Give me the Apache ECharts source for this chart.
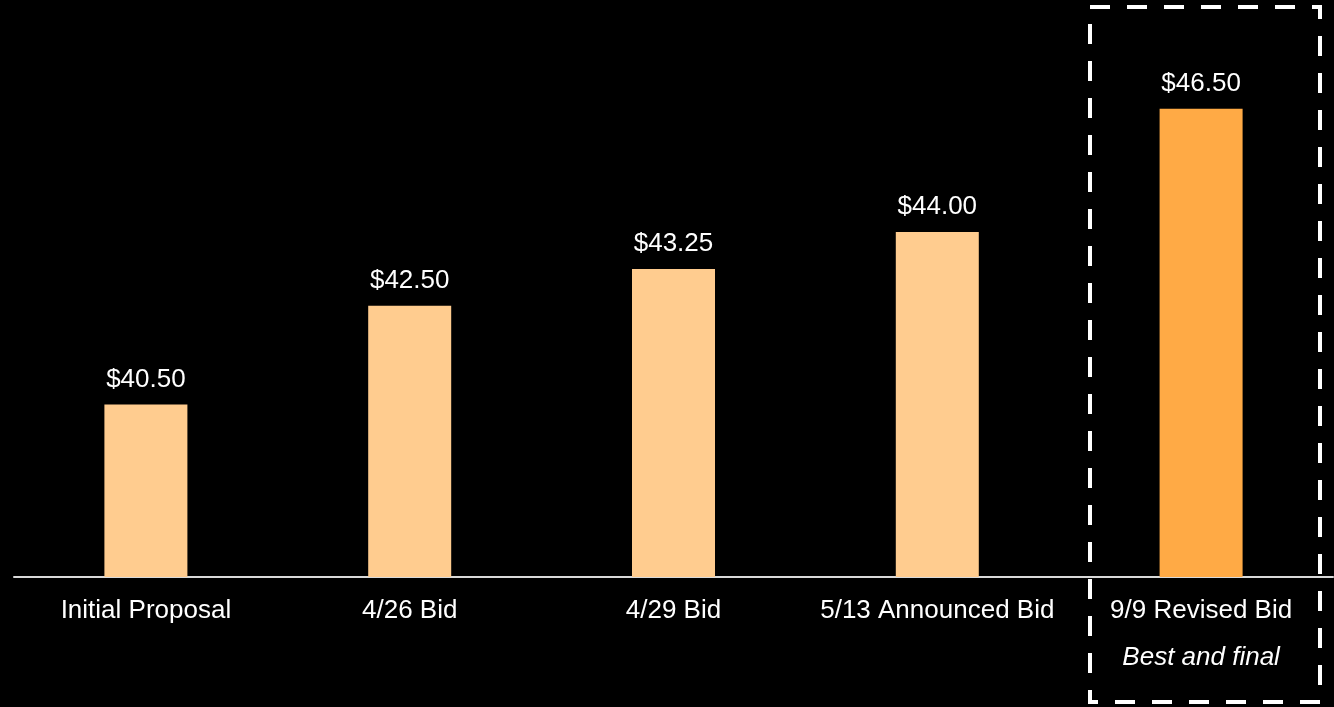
<!DOCTYPE html>
<html>
<head>
<meta charset="utf-8">
<script src="https://cdn.jsdelivr.net/npm/echarts@6/dist/echarts.min.js"></script>
<style>
html,body{margin:0;padding:0;background:#000;}
#chart{width:1334px;height:707px;}
</style>
</head>
<body>
<div id="chart"></div>
<script>
const categories = ['Initial Proposal', '4/26 Bid', '4/29 Bid', '5/13 Announced Bid', '9/9 Revised Bid'];
const values = [40.50, 42.50, 43.25, 44.00, 46.50];
const subLabels = ['', '', '', '', 'Best and final'];

const chart = echarts.init(document.getElementById('chart'));
const lastIdx = values.length - 1;
const FONT = 'Liberation Sans, Arial, sans-serif';
chart.setOption({
  backgroundColor: '#000000',
  animation: false,
  grid: { left: 14, right: 1, top: 84, bottom: 130 },
  xAxis: {
    type: 'category',
    data: categories,
    axisLine: { show: true, lineStyle: { color: '#D9D9D9', width: 2 } },
    axisTick: { show: false },
    axisLabel: {
      margin: 19,
      interval: 0,
      color: '#FFFFFF',
      fontFamily: FONT,
      fontSize: 26,
      formatter: function (v, i) {
        return subLabels[i] ? '{a|' + v + '}\n{b|' + subLabels[i] + '}' : '{a|' + v + '}';
      },
      rich: {
        a: { fontSize: 26, lineHeight: 30, color: '#FFFFFF', fontFamily: FONT },
        b: { fontSize: 26, lineHeight: 64, color: '#FFFFFF', fontStyle: 'italic', fontFamily: FONT }
      }
    }
  },
  yAxis: { type: 'value', min: 37, max: 47, show: false, splitLine: { show: false } },
  series: [{
    type: 'bar',
    barWidth: 83,
    data: values.map((v, i) => ({
      value: v,
      itemStyle: { color: i === lastIdx ? '#FFAA45' : '#FFCC8F' }
    })),
    label: {
      show: true,
      position: 'top',
      distance: 12,
      color: '#FFFFFF',
      fontSize: 26,
      fontFamily: FONT,
      formatter: p => '$' + p.value.toFixed(2)
    }
  }],
  graphic: [{
    type: 'rect',
    shape: { x: 1090, y: 7, width: 230, height: 695 },
    style: { fill: 'none', stroke: '#FFFFFF', lineWidth: 4, lineDash: [20, 17] },
    silent: true
  }]
});
</script>
</body>
</html>
